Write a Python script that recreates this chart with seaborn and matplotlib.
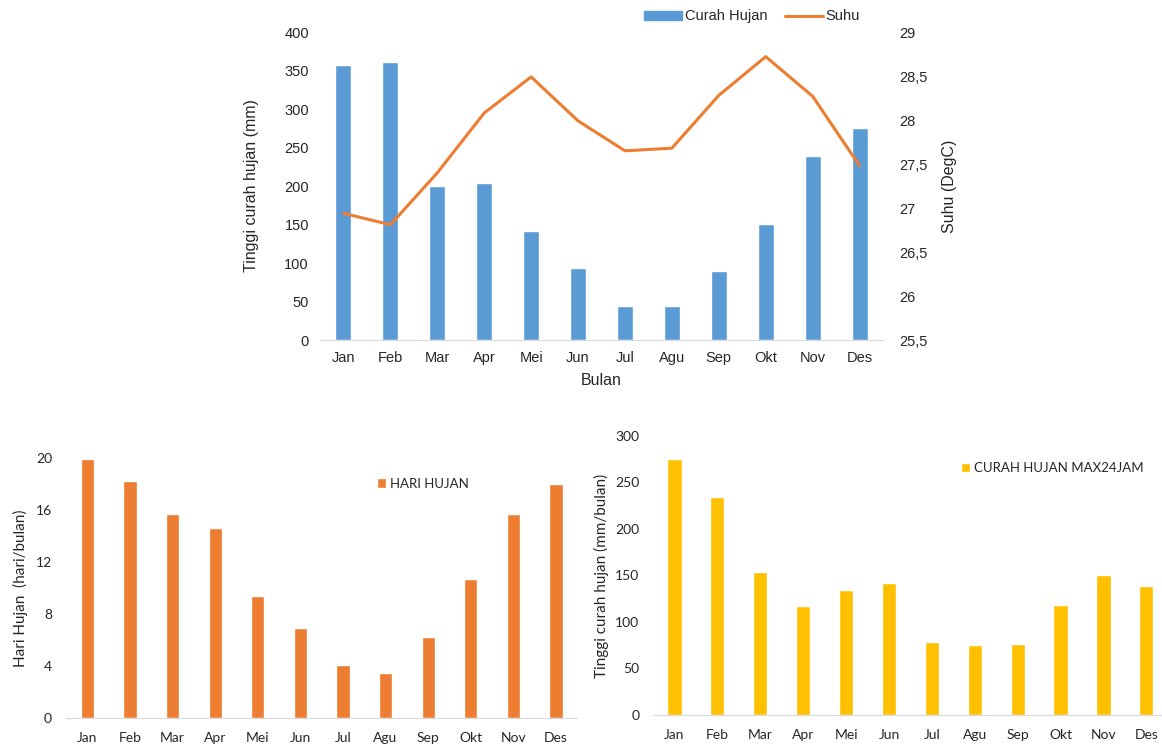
import matplotlib
matplotlib.use('Agg')
import matplotlib.pyplot as plt
import seaborn as sns
import numpy as np
from matplotlib.lines import Line2D
from matplotlib.patches import Patch
from matplotlib.ticker import FuncFormatter

sns.set_style('white')
plt.rcParams['font.family'] = ['Liberation Sans', 'DejaVu Sans']

# data
bulan = ['Jan', 'Feb', 'Mar', 'Apr', 'Mei', 'Jun', 'Jul', 'Agu', 'Sep', 'Okt', 'Nov', 'Des']
curah_hujan = [357, 361, 200, 204, 142, 94, 44, 44, 90, 151, 239, 275]
suhu = [26.94, 26.81, 27.40, 28.08, 28.49, 27.99, 27.65, 27.68, 28.28, 28.72, 28.27, 27.48]
hari_hujan = [19.9, 18.2, 15.7, 14.6, 9.4, 6.9, 4.1, 3.5, 6.2, 10.7, 15.7, 18.0]
max24jam = [275, 234, 154, 117, 134, 142, 78, 75, 76, 118, 150, 139]

blue = '#5B9BD5'
orange = '#ED7D31'
yellow = '#FFC000'
grey = '#D9D9D9'
txt = '#262626'

fig = plt.figure(figsize=(11.62, 7.46), dpi=100)

def clean(ax):
    for s in ['top', 'right', 'left']:
        ax.spines[s].set_visible(False)
    ax.spines['bottom'].set_color(grey)
    ax.tick_params(length=0, colors=txt)

# top chart: rainfall + temperature
ax = fig.add_axes([0.2754, 0.5442, 0.4845, 0.4129])
sns.barplot(x=bulan, y=curah_hujan, color=blue, width=0.34, saturation=1, ax=ax)
ax.set_ylim(0, 400)
ax.set_yticks(range(0, 401, 50))
ax.set_xlim(-0.5, 11.5)
clean(ax)
ax.tick_params(labelsize=10.5, pad=8)
ax.set_xlabel('Bulan', fontsize=11.5, color=txt, labelpad=6)
ax.set_ylabel('Tinggi curah hujan (mm)', fontsize=11.5, color=txt, labelpad=18)

ax2 = ax.twinx()
sns.lineplot(x=np.arange(len(bulan)), y=suhu, color=orange, linewidth=2.2, ax=ax2)
ax2.set_ylim(25.5, 29)
ax2.set_yticks(np.arange(25.5, 29.01, 0.5))
ax2.yaxis.set_major_formatter(FuncFormatter(lambda v, p: ('%g' % v).replace('.', ',')))
for s in ax2.spines.values():
    s.set_visible(False)
ax2.tick_params(length=0, labelsize=10.5, colors=txt, pad=12)
ax2.set_ylabel('Suhu (DegC)', fontsize=11.5, color=txt, labelpad=10)
ax2.set_xlim(-0.5, 11.5)

handles = [Patch(color=blue), Line2D([0], [0], color=orange, lw=2.2)]
fig.legend(handles, ['Curah Hujan', 'Suhu'], loc='center', bbox_to_anchor=(0.647, 0.978),
           ncol=2, frameon=False, fontsize=10.5, handlelength=2.6, handleheight=0.6,
           columnspacing=1.2, handletextpad=0.2)

# bottom left: hari hujan
bfont = ['Lato', 'DejaVu Sans']
ax3 = fig.add_axes([0.0568, 0.0375, 0.44, 0.3485])
sns.barplot(x=bulan, y=hari_hujan, color=orange, width=0.31, saturation=1, ax=ax3, label='HARI HUJAN')
ax3.set_ylim(0, 20)
ax3.set_yticks(range(0, 21, 4))
ax3.set_xlim(-0.5, 11.5)
clean(ax3)
ax3.tick_params(labelsize=10, pad=10)
for t in ax3.get_xticklabels() + ax3.get_yticklabels():
    t.set_family(bfont)
ax3.set_xlabel('')
ax3.set_ylabel('Hari Hujan  (hari/bulan)', fontsize=11, color=txt, family=bfont, labelpad=6)
ax3.legend(loc='upper left', bbox_to_anchor=(0.585, 0.97), frameon=False,
           prop={'family': bfont, 'size': 9.5}, handlelength=0.7, handleheight=0.7, handletextpad=0.3)

# bottom right: curah hujan max 24 jam
ax4 = fig.add_axes([0.562, 0.0416, 0.443, 0.374])
sns.barplot(x=bulan, y=max24jam, color=yellow, width=0.33, saturation=1, ax=ax4, label='CURAH HUJAN MAX24JAM')
ax4.set_ylim(0, 300)
ax4.set_yticks(range(0, 301, 50))
ax4.set_xlim(-0.5, 11.5)
clean(ax4)
ax4.tick_params(labelsize=10, pad=10)
for t in ax4.get_xticklabels() + ax4.get_yticklabels():
    t.set_family(bfont)
ax4.set_xlabel('')
ax4.set_ylabel('Tinggi curah hujan (mm/bulan)', fontsize=11, color=txt, family=bfont, labelpad=4)
ax4.legend(loc='upper left', bbox_to_anchor=(0.575, 0.95), frameon=False,
           prop={'family': bfont, 'size': 9.5}, handlelength=0.7, handleheight=0.7, handletextpad=0.3)

fig.savefig('out.png', dpi=100)
